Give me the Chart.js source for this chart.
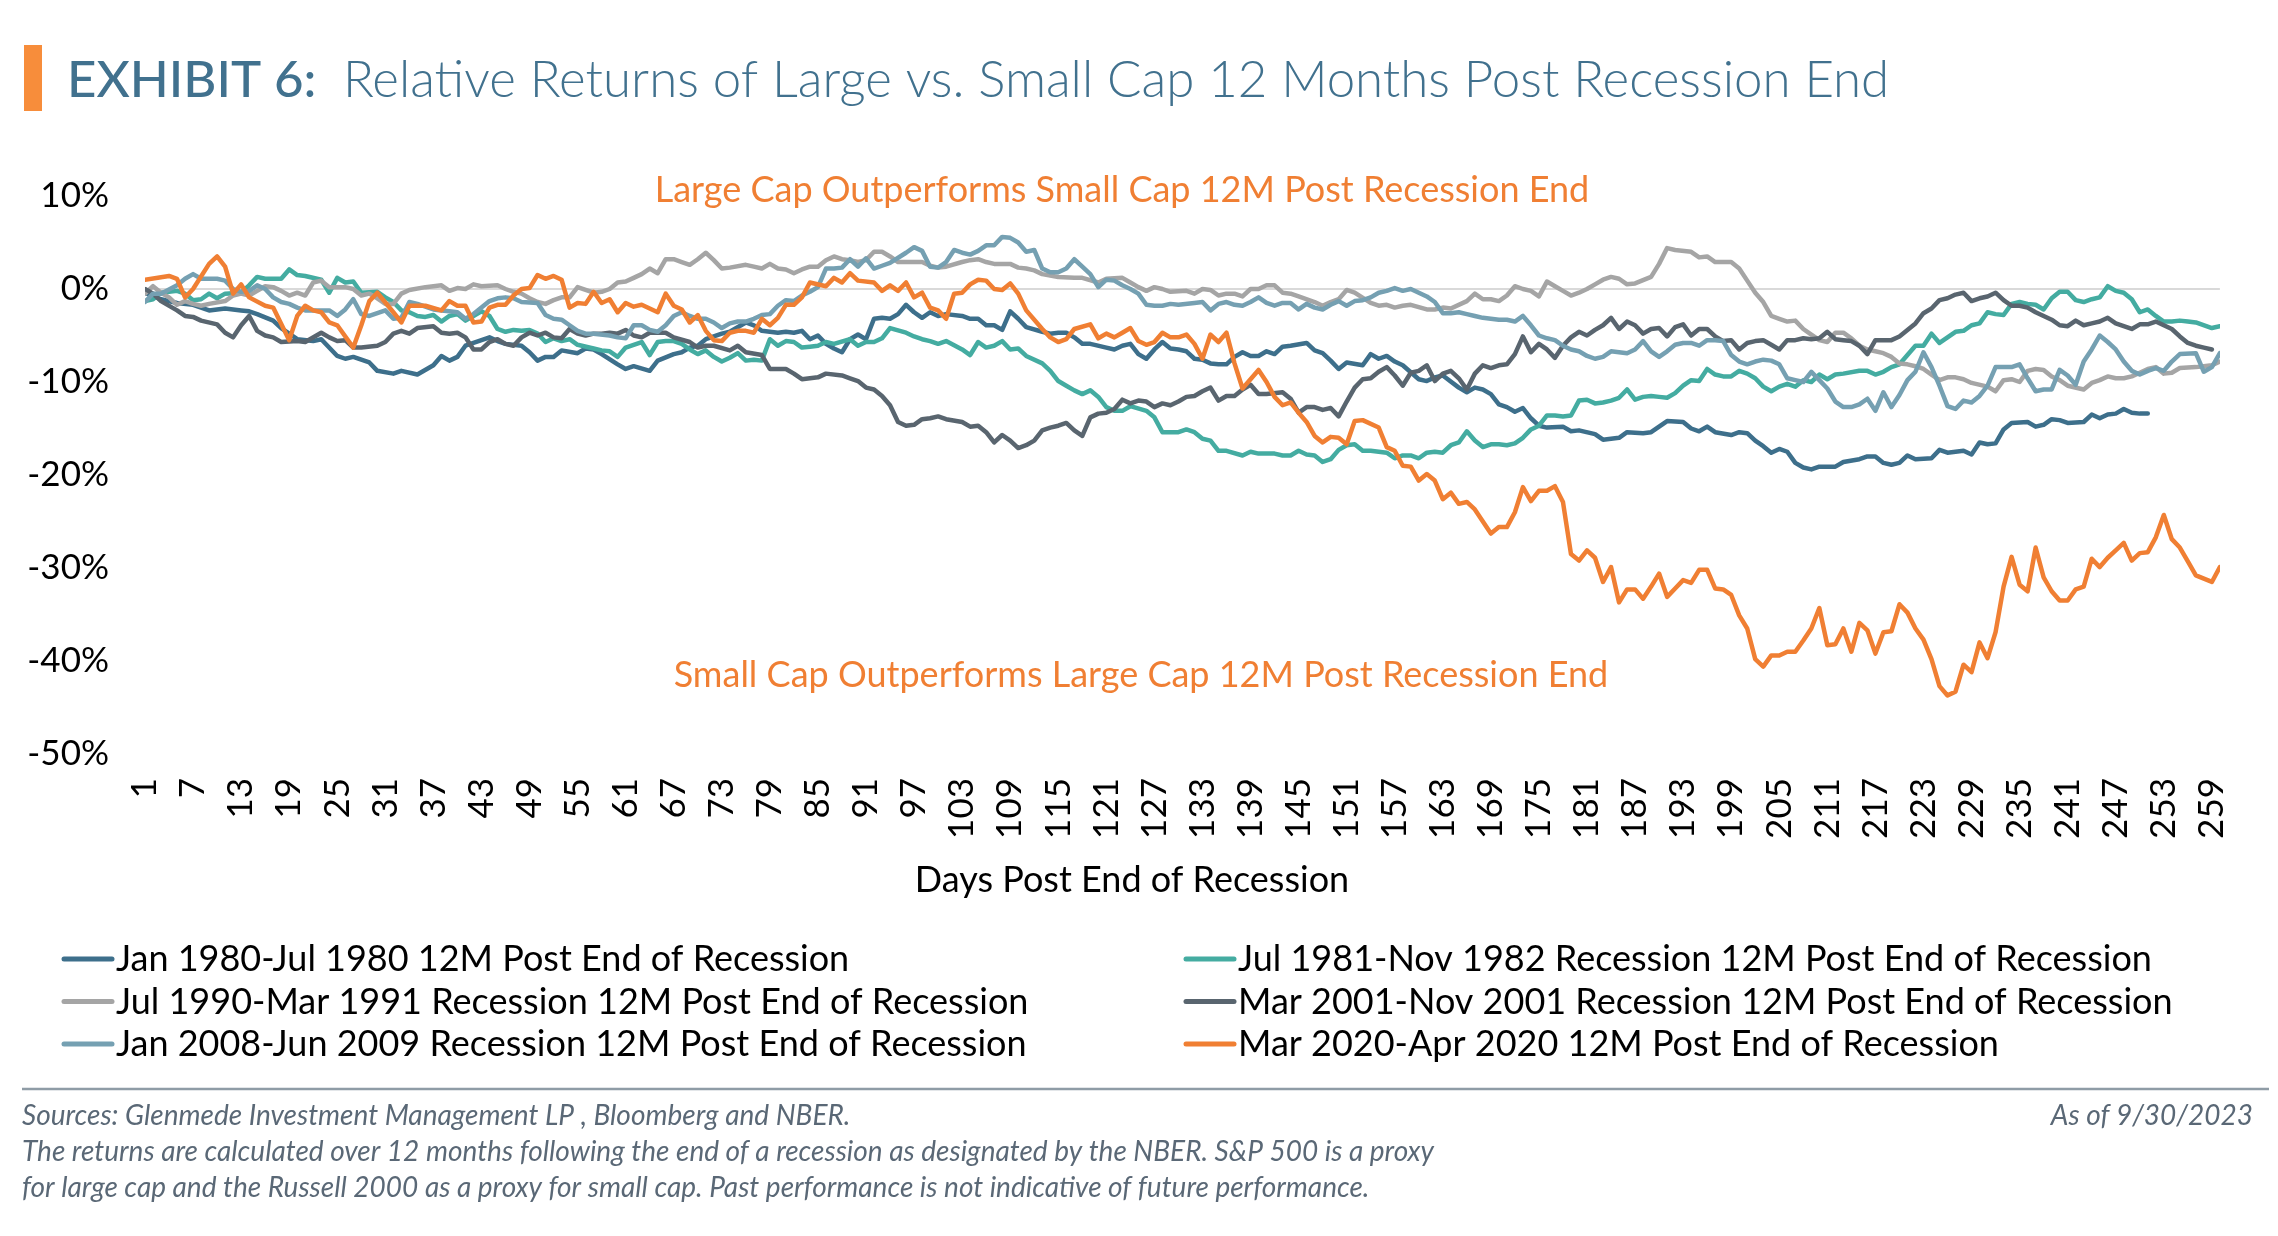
<!DOCTYPE html>
<html>
<head>
<meta charset="utf-8">
<script src="https://cdn.jsdelivr.net/npm/chart.js@4.4.0/dist/chart.umd.min.js"></script>
<style>
html,body{margin:0;padding:0;background:#fff;}
#wrap{position:relative;width:2278px;height:1236px;}
canvas{display:block;}
</style>
</head>
<body>
<div id="wrap"><canvas id="c" width="2278" height="1236"></canvas></div>
<script>
// ---- Data: [day, relative return %] ----
const dayTicks = [1,7,13,19,25,31,37,43,49,55,61,67,73,79,85,91,97,103,109,115,121,127,133,139,145,151,157,163,169,175,181,187,193,199,205,211,217,223,229,235,241,247,253,259];
const yTickValues = [-50,-40,-30,-20,-10,0,10];

const seriesLabels = [
  "Jan 1980-Jul 1980 12M Post End of Recession",
  "Jul 1981-Nov 1982 Recession 12M Post End of Recession",
  "Jul 1990-Mar 1991 Recession 12M Post End of Recession",
  "Mar 2001-Nov 2001 Recession 12M Post End of Recession",
  "Jan 2008-Jun 2009 Recession 12M Post End of Recession",
  "Mar 2020-Apr 2020 12M Post End of Recession"
];

const rec1980 = [[1,-0.4],[3,-1.1],[5,-1.5],[7,-1.7],[9,-2.3],[11,-2.1],[13,-2.3],[14,-2.4],[15,-2.7],[17,-3.4],[18,-4.2],[20,-5.4],[22,-5.6],[23,-5.4],[25,-7.2],[26,-7.5],[27,-7.3],[29,-7.9],[30,-8.8],[32,-9.1],[33,-8.8],[35,-9.2],[37,-8.2],[38,-7.2],[39,-7.7],[40,-7.3],[41,-6.1],[43,-5.5],[44,-5.2],[45,-5.6],[46,-5.9],[48,-6.1],[49,-6.8],[50,-7.7],[51,-7.3],[52,-7.3],[53,-6.6],[55,-6.9],[56,-6.4],[57,-6.5],[58,-7.0],[60,-8.1],[61,-8.6],[62,-8.3],[64,-8.8],[65,-7.7],[67,-7.0],[68,-6.8],[69,-6.3],[70,-6.1],[71,-5.4],[73,-4.8],[74,-4.6],[76,-3.6],[77,-3.9],[78,-4.5],[80,-4.7],[81,-4.6],[82,-4.7],[83,-4.5],[84,-5.4],[85,-5.0],[86,-5.9],[87,-6.4],[88,-6.8],[89,-5.4],[90,-4.9],[91,-5.4],[92,-3.2],[93,-3.1],[94,-3.2],[95,-2.7],[96,-1.7],[97,-2.5],[98,-3.1],[99,-2.5],[100,-2.9],[101,-2.7],[103,-2.9],[104,-3.2],[105,-3.2],[106,-3.9],[107,-3.9],[108,-4.4],[109,-2.4],[110,-3.2],[111,-4.1],[113,-4.6],[114,-4.8],[115,-4.7],[116,-4.7],[117,-5.2],[118,-5.9],[119,-5.9],[121,-6.3],[122,-6.5],[123,-6.1],[124,-5.9],[125,-7.0],[126,-7.5],[127,-6.5],[128,-5.7],[129,-6.4],[130,-6.5],[131,-6.7],[132,-7.5],[133,-7.6],[134,-8.0],[135,-8.1],[136,-8.1],[137,-7.3],[138,-6.8],[139,-7.2],[140,-7.2],[141,-6.7],[142,-7.0],[143,-6.2],[144,-6.1],[146,-5.8],[147,-6.6],[148,-6.9],[149,-7.7],[150,-8.6],[151,-7.9],[153,-8.2],[154,-7.0],[155,-7.5],[156,-7.2],[157,-7.8],[158,-8.2],[160,-9.7],[161,-9.9],[162,-9.5],[163,-9.3],[165,-10.6],[166,-11.1],[167,-10.6],[168,-10.8],[169,-11.3],[170,-12.4],[171,-12.7],[172,-13.2],[173,-12.8],[174,-13.9],[175,-14.7],[176,-14.9],[178,-14.8],[179,-15.3],[180,-15.2],[182,-15.6],[183,-16.2],[185,-16.0],[186,-15.4],[188,-15.5],[189,-15.4],[191,-14.2],[193,-14.3],[194,-15.0],[195,-15.3],[196,-14.8],[197,-15.4],[199,-15.7],[200,-15.4],[201,-15.5],[202,-16.3],[203,-16.9],[204,-17.6],[205,-17.2],[206,-17.5],[207,-18.7],[208,-19.2],[209,-19.4],[210,-19.1],[212,-19.1],[213,-18.6],[215,-18.3],[216,-18.0],[217,-18.0],[218,-18.7],[219,-18.9],[220,-18.7],[221,-17.9],[222,-18.3],[224,-18.2],[225,-17.3],[226,-17.6],[228,-17.4],[229,-17.8],[230,-16.5],[231,-16.7],[232,-16.6],[233,-15.1],[234,-14.4],[236,-14.3],[237,-14.8],[238,-14.6],[239,-14.0],[240,-14.1],[241,-14.4],[243,-14.3],[244,-13.5],[245,-13.9],[246,-13.5],[247,-13.4],[248,-12.9],[249,-13.3],[250,-13.4],[251,-13.4]];

const rec1981 = [[1,-1.3],[2,-1.1],[3,-0.4],[5,-0.2],[6,-0.5],[7,-1.2],[8,-1.1],[9,-0.5],[10,-1.0],[11,-0.5],[13,-0.4],[14,0.4],[15,1.3],[16,1.1],[18,1.1],[19,2.1],[20,1.5],[21,1.4],[23,1.0],[24,-0.4],[25,1.2],[26,0.7],[27,0.8],[28,-0.4],[30,-0.3],[31,-0.9],[32,-1.4],[33,-2.3],[34,-2.5],[35,-2.9],[36,-3.0],[37,-2.8],[38,-3.5],[39,-2.9],[40,-2.7],[41,-3.4],[42,-2.9],[43,-2.4],[44,-2.9],[45,-4.3],[46,-4.6],[47,-4.4],[48,-4.5],[49,-4.4],[50,-4.8],[51,-5.7],[52,-5.3],[53,-5.6],[54,-5.4],[55,-6.0],[57,-6.4],[58,-6.6],[59,-6.7],[60,-7.3],[61,-6.3],[63,-5.7],[64,-7.1],[65,-5.7],[66,-5.6],[67,-5.6],[68,-5.9],[69,-6.5],[70,-7.0],[71,-6.6],[72,-7.3],[73,-7.8],[74,-7.4],[75,-6.9],[76,-7.7],[77,-7.6],[78,-7.7],[79,-5.4],[80,-6.1],[81,-5.6],[82,-5.7],[83,-6.3],[84,-6.2],[85,-6.1],[86,-5.7],[87,-5.9],[89,-5.4],[90,-6.1],[91,-5.7],[92,-5.7],[93,-5.3],[94,-4.2],[96,-4.7],[97,-5.1],[98,-5.4],[99,-5.6],[100,-5.9],[101,-5.6],[103,-6.5],[104,-7.1],[105,-5.7],[106,-6.3],[107,-6.1],[108,-5.6],[109,-6.5],[110,-6.4],[111,-7.2],[113,-8.0],[114,-8.8],[115,-9.9],[116,-10.4],[117,-10.9],[118,-11.3],[119,-10.9],[120,-11.6],[121,-12.7],[122,-13.1],[123,-13.1],[124,-12.6],[126,-13.1],[127,-13.8],[128,-15.4],[130,-15.4],[131,-15.1],[132,-15.4],[133,-16.1],[134,-16.3],[135,-17.4],[136,-17.4],[138,-17.9],[139,-17.5],[140,-17.7],[142,-17.7],[143,-17.9],[144,-17.9],[145,-17.4],[146,-17.8],[147,-17.9],[148,-18.6],[149,-18.3],[150,-17.3],[151,-16.8],[152,-16.7],[153,-17.4],[154,-17.4],[155,-17.5],[156,-17.6],[157,-18.2],[158,-17.9],[159,-17.9],[160,-18.2],[161,-17.6],[162,-17.5],[163,-17.6],[164,-16.8],[165,-16.5],[166,-15.3],[167,-16.3],[168,-17.0],[169,-16.7],[170,-16.7],[171,-16.8],[172,-16.6],[173,-16.0],[174,-15.1],[175,-14.7],[176,-13.6],[177,-13.6],[178,-13.7],[179,-13.6],[180,-12.0],[181,-11.9],[182,-12.3],[183,-12.2],[184,-12.0],[185,-11.7],[186,-10.8],[187,-11.9],[188,-11.6],[189,-11.5],[190,-11.6],[191,-11.7],[192,-11.2],[193,-10.4],[194,-9.8],[195,-9.9],[196,-8.6],[197,-9.2],[198,-9.4],[199,-9.4],[200,-8.8],[201,-9.1],[202,-9.6],[203,-10.5],[204,-11.0],[205,-10.5],[206,-10.2],[207,-10.5],[208,-9.8],[209,-10.0],[210,-9.2],[211,-9.7],[212,-9.2],[213,-9.1],[215,-8.8],[216,-8.8],[217,-9.2],[218,-8.9],[219,-8.4],[220,-8.1],[221,-7.1],[222,-6.1],[223,-6.1],[224,-4.8],[225,-5.8],[226,-5.2],[227,-4.6],[228,-4.5],[229,-3.9],[230,-3.7],[231,-2.5],[232,-2.7],[233,-2.8],[234,-1.6],[235,-1.4],[236,-1.6],[237,-1.7],[238,-2.2],[239,-1.0],[240,-0.3],[241,-0.3],[242,-1.2],[243,-1.4],[244,-1.1],[245,-0.9],[246,0.3],[247,-0.2],[248,-0.4],[249,-1.1],[250,-2.5],[251,-2.2],[252,-2.9],[253,-3.5],[254,-3.5],[255,-3.4],[256,-3.5],[257,-3.6],[259,-4.2],[260,-4.0]];

const rec1990 = [[1,-0.5],[2,0.3],[3,-0.4],[4,-0.9],[5,-1.7],[6,-1.3],[7,-1.6],[8,-1.8],[9,-1.6],[11,-1.3],[12,-0.7],[13,-0.5],[14,-0.7],[15,-0.2],[16,0.3],[17,0.2],[18,-0.2],[19,-0.7],[20,-0.4],[21,-0.7],[22,0.7],[23,0.9],[24,0.2],[26,0.2],[27,0.0],[28,-0.7],[29,-0.5],[30,-1.0],[31,-1.6],[32,-1.6],[33,-0.5],[34,-0.1],[36,0.2],[38,0.4],[39,-0.2],[40,0.1],[41,0.0],[42,0.5],[43,0.3],[45,0.4],[46,0.0],[47,-0.3],[48,-0.5],[49,-1.0],[50,-1.4],[51,-1.6],[52,-1.2],[53,-0.9],[54,-0.9],[55,0.2],[56,-0.1],[57,-0.4],[58,-0.3],[59,0.0],[60,0.7],[61,0.8],[62,1.2],[63,1.6],[64,2.2],[65,1.7],[66,3.2],[67,3.2],[68,2.9],[69,2.6],[70,3.2],[71,3.9],[72,3.1],[73,2.2],[74,2.3],[76,2.6],[77,2.4],[78,2.2],[79,2.7],[80,2.2],[81,2.1],[82,1.7],[83,2.1],[84,2.4],[85,2.4],[86,3.1],[87,3.5],[88,3.2],[89,3.1],[90,2.9],[91,3.1],[92,4.0],[93,4.0],[94,3.5],[95,2.9],[97,2.9],[98,2.9],[99,2.5],[100,2.3],[101,2.4],[103,2.9],[104,3.1],[105,3.2],[106,2.9],[107,2.7],[109,2.7],[110,2.3],[111,2.2],[112,2.0],[113,1.6],[115,1.3],[117,1.2],[118,1.2],[120,0.7],[121,1.1],[123,1.2],[124,0.7],[125,0.2],[126,-0.2],[127,0.2],[128,0.0],[129,-0.3],[131,-0.2],[132,-0.5],[133,0.0],[134,-0.1],[135,-0.7],[136,-0.5],[137,-0.5],[138,-0.8],[139,0.0],[140,0.0],[141,0.4],[142,0.4],[143,-0.4],[144,-0.5],[145,-0.8],[147,-1.4],[148,-1.8],[149,-1.4],[150,-1.1],[151,-0.1],[152,-0.4],[154,-1.5],[155,-1.8],[156,-1.7],[157,-2.0],[158,-1.8],[159,-1.7],[161,-2.2],[162,-2.2],[163,-2.0],[164,-2.1],[166,-1.3],[167,-0.5],[168,-1.1],[169,-1.1],[170,-1.3],[171,-0.7],[172,0.3],[173,0.0],[174,-0.2],[175,-0.8],[176,0.8],[177,0.3],[178,-0.2],[179,-0.7],[180,-0.4],[181,0.0],[182,0.5],[183,1.0],[184,1.3],[185,1.1],[186,0.5],[187,0.6],[189,1.3],[190,2.7],[191,4.4],[192,4.2],[194,4.0],[195,3.4],[196,3.5],[197,2.9],[199,2.9],[200,2.2],[201,0.9],[202,-0.4],[203,-1.4],[204,-2.9],[205,-3.2],[206,-3.5],[207,-3.4],[208,-4.3],[209,-4.9],[210,-5.5],[211,-5.7],[212,-4.7],[213,-4.7],[214,-5.3],[215,-6.1],[216,-6.5],[217,-6.7],[218,-6.9],[219,-7.3],[220,-8.0],[221,-8.1],[222,-8.3],[223,-8.6],[224,-9.2],[225,-9.8],[226,-9.5],[227,-9.5],[228,-9.7],[229,-10.1],[231,-10.5],[232,-11.0],[233,-9.8],[234,-9.7],[235,-10.0],[236,-8.8],[237,-8.6],[238,-8.7],[239,-9.4],[240,-9.8],[241,-10.4],[243,-10.8],[244,-10.1],[245,-9.8],[246,-9.4],[247,-9.6],[248,-9.6],[249,-9.4],[250,-9.0],[251,-8.6],[252,-8.4],[253,-9.1],[254,-9.0],[255,-8.5],[257,-8.4],[258,-8.3],[259,-8.2],[260,-7.8]];

const rec2001 = [[1,0.0],[2,-0.5],[3,-1.3],[5,-2.3],[6,-2.9],[7,-3.0],[8,-3.4],[10,-3.8],[11,-4.7],[12,-5.2],[13,-3.9],[14,-2.9],[15,-4.5],[16,-5.0],[17,-5.2],[18,-5.7],[20,-5.6],[21,-5.7],[23,-4.7],[24,-5.2],[25,-5.6],[26,-5.5],[27,-6.3],[28,-6.3],[30,-6.1],[31,-5.7],[32,-4.8],[33,-4.5],[34,-4.8],[35,-4.2],[37,-4.0],[38,-4.7],[39,-4.8],[40,-4.7],[41,-5.2],[42,-6.5],[43,-6.5],[44,-5.7],[45,-5.4],[46,-5.9],[47,-6.1],[48,-5.2],[49,-4.7],[50,-5.0],[51,-4.7],[52,-5.2],[53,-5.3],[54,-4.3],[55,-4.8],[56,-5.0],[57,-4.8],[58,-4.8],[59,-4.7],[60,-4.8],[61,-4.4],[62,-5.0],[63,-5.2],[64,-4.7],[66,-4.7],[67,-5.2],[69,-5.7],[70,-6.3],[71,-6.1],[72,-6.1],[74,-6.6],[75,-6.1],[76,-6.8],[78,-7.1],[79,-8.6],[81,-8.6],[82,-9.1],[83,-9.7],[85,-9.5],[86,-9.1],[88,-9.3],[89,-9.6],[90,-9.9],[91,-10.6],[92,-10.8],[93,-11.5],[94,-12.5],[95,-14.3],[96,-14.7],[97,-14.6],[98,-14.0],[99,-13.9],[100,-13.7],[101,-14.0],[103,-14.3],[104,-14.8],[105,-14.7],[106,-15.4],[107,-16.5],[108,-15.7],[109,-16.3],[110,-17.1],[111,-16.8],[112,-16.3],[113,-15.2],[114,-14.9],[115,-14.7],[116,-14.4],[117,-15.2],[118,-15.8],[119,-13.8],[120,-13.4],[121,-13.3],[122,-12.9],[123,-11.9],[124,-12.3],[125,-12.0],[126,-12.1],[127,-12.7],[128,-12.3],[129,-12.5],[130,-12.1],[131,-11.6],[132,-11.5],[133,-11.0],[134,-10.6],[135,-12.0],[136,-11.5],[137,-11.5],[138,-10.8],[139,-10.3],[140,-11.3],[141,-11.3],[143,-11.1],[144,-11.8],[145,-13.3],[146,-12.7],[147,-12.7],[148,-13.0],[149,-12.8],[150,-13.7],[151,-12.1],[152,-10.6],[153,-9.7],[154,-9.6],[155,-8.9],[156,-8.4],[157,-9.3],[158,-10.4],[159,-9.0],[160,-8.8],[161,-8.2],[162,-9.9],[163,-9.1],[164,-8.8],[165,-9.6],[166,-10.8],[167,-9.1],[168,-8.2],[169,-8.5],[170,-8.2],[171,-8.1],[172,-7.0],[173,-5.1],[174,-6.8],[175,-5.9],[176,-6.5],[177,-7.4],[178,-6.1],[179,-5.2],[180,-4.6],[181,-5.0],[182,-4.4],[183,-3.9],[184,-3.1],[185,-4.3],[186,-3.5],[187,-3.9],[188,-4.8],[189,-4.3],[190,-4.2],[191,-5.1],[192,-4.1],[193,-3.8],[194,-5.0],[195,-4.3],[196,-4.3],[197,-5.1],[198,-5.6],[199,-5.5],[200,-6.5],[201,-5.8],[202,-5.6],[203,-5.5],[204,-6.0],[205,-6.5],[206,-5.5],[207,-5.5],[208,-5.3],[209,-5.4],[210,-5.3],[211,-4.6],[212,-5.4],[213,-5.5],[214,-5.6],[215,-6.1],[216,-7.0],[217,-5.5],[218,-5.5],[219,-5.5],[220,-5.1],[221,-4.4],[222,-3.7],[223,-2.6],[224,-2.1],[225,-1.2],[226,-1.0],[227,-0.6],[228,-0.4],[229,-1.3],[230,-1.0],[231,-0.8],[232,-0.4],[233,-1.2],[234,-1.8],[235,-1.8],[236,-2.0],[237,-2.5],[238,-2.9],[239,-3.3],[240,-3.9],[241,-4.0],[242,-3.4],[243,-3.9],[244,-3.7],[245,-3.5],[246,-3.1],[247,-3.7],[248,-4.0],[249,-4.3],[250,-3.8],[251,-3.8],[252,-3.5],[253,-3.9],[254,-4.3],[255,-5.1],[256,-5.8],[257,-6.1],[258,-6.3],[259,-6.5]];

const rec2008 = [[1,-1.4],[2,-0.5],[3,-0.5],[5,0.4],[6,1.1],[7,1.6],[8,1.1],[10,1.1],[11,0.9],[12,0.0],[13,-0.3],[14,-0.2],[15,0.4],[16,0.0],[17,-0.9],[18,-1.4],[19,-1.6],[20,-2.0],[21,-2.3],[23,-2.3],[24,-2.3],[25,-2.9],[26,-2.2],[27,-1.1],[28,-2.7],[29,-2.9],[31,-2.3],[32,-3.2],[33,-3.1],[34,-1.4],[35,-1.6],[37,-2.2],[38,-2.3],[39,-2.4],[40,-2.5],[41,-3.2],[42,-2.7],[43,-2.0],[44,-1.3],[45,-1.0],[46,-0.9],[47,-1.0],[48,-1.4],[50,-1.5],[51,-2.8],[52,-3.2],[53,-3.3],[54,-3.9],[55,-4.5],[56,-4.8],[57,-4.8],[59,-5.0],[60,-5.2],[61,-5.3],[62,-3.9],[63,-3.9],[64,-4.4],[65,-4.6],[66,-3.9],[67,-2.9],[68,-2.5],[69,-2.9],[70,-3.2],[71,-3.2],[72,-3.6],[73,-4.2],[74,-3.7],[75,-3.5],[76,-3.5],[77,-3.2],[78,-2.8],[79,-2.7],[80,-1.8],[81,-1.2],[82,-1.3],[83,-0.7],[84,-0.3],[85,0.2],[86,2.2],[87,2.2],[88,2.3],[89,3.2],[90,2.4],[91,3.3],[92,2.2],[93,2.5],[94,2.8],[96,3.9],[97,4.5],[98,4.1],[99,2.4],[100,2.3],[101,2.9],[102,4.2],[103,3.9],[104,3.7],[105,4.1],[106,4.7],[107,4.7],[108,5.6],[109,5.5],[110,5.0],[111,4.0],[112,4.2],[113,2.2],[114,1.8],[115,1.8],[116,2.2],[117,3.2],[118,2.4],[119,1.6],[120,0.2],[121,1.0],[122,0.9],[123,0.4],[124,0.0],[125,-0.5],[126,-1.7],[127,-1.8],[128,-1.8],[129,-1.6],[130,-1.7],[132,-1.5],[133,-1.4],[134,-2.3],[135,-1.6],[136,-1.4],[137,-1.7],[138,-1.8],[139,-1.4],[140,-0.9],[141,-1.5],[142,-1.8],[143,-1.5],[144,-1.5],[145,-2.2],[146,-1.6],[147,-2.0],[148,-2.2],[149,-1.7],[150,-1.3],[151,-1.8],[152,-1.3],[153,-1.2],[154,-0.9],[155,-0.4],[156,-0.2],[157,0.1],[158,-0.2],[159,0.0],[160,-0.4],[161,-0.8],[162,-1.4],[163,-2.6],[164,-2.6],[165,-2.5],[166,-2.7],[167,-2.9],[168,-3.1],[170,-3.3],[171,-3.3],[172,-3.5],[173,-2.9],[174,-3.9],[175,-5.0],[176,-5.3],[177,-5.5],[178,-6.1],[179,-6.5],[180,-6.7],[181,-7.2],[182,-7.5],[183,-7.3],[184,-6.7],[186,-6.9],[187,-6.5],[188,-5.6],[189,-6.7],[190,-7.3],[191,-6.7],[192,-6.0],[193,-5.8],[194,-5.8],[195,-6.1],[196,-5.5],[197,-5.5],[198,-5.6],[199,-7.1],[200,-7.8],[201,-8.1],[202,-7.8],[203,-7.6],[204,-7.7],[205,-8.1],[206,-9.6],[207,-9.8],[208,-10.0],[209,-8.9],[210,-9.8],[211,-10.7],[212,-12.1],[213,-12.7],[214,-12.7],[215,-12.4],[216,-11.8],[217,-13.1],[218,-11.1],[219,-12.7],[220,-11.4],[221,-9.8],[222,-8.9],[223,-6.8],[224,-8.4],[225,-10.4],[226,-12.6],[227,-12.9],[228,-12.0],[229,-12.2],[230,-11.5],[231,-10.4],[232,-8.4],[233,-8.4],[234,-8.4],[235,-8.1],[236,-9.6],[237,-11.0],[238,-10.8],[239,-10.8],[240,-8.7],[241,-9.3],[242,-10.3],[243,-7.8],[244,-6.5],[245,-5.0],[246,-5.7],[247,-6.5],[248,-7.8],[249,-8.8],[250,-9.2],[251,-8.8],[252,-8.5],[253,-8.8],[254,-7.8],[255,-7.0],[257,-6.9],[258,-8.9],[259,-8.4],[260,-6.9]];

const rec2020 = [[1,1.0],[4,1.4],[5,1.1],[6,-0.9],[7,0.0],[9,2.7],[10,3.5],[11,2.4],[12,-0.5],[13,0.5],[14,-0.9],[16,-1.8],[17,-2.0],[19,-5.5],[20,-2.9],[21,-1.8],[22,-2.3],[23,-2.5],[24,-3.6],[25,-3.9],[27,-6.3],[28,-3.9],[29,-1.3],[30,-0.4],[32,-2.5],[33,-3.6],[34,-1.8],[36,-1.8],[38,-2.3],[39,-1.3],[40,-1.8],[41,-1.8],[42,-3.6],[43,-3.5],[44,-2.0],[45,-1.7],[46,-1.7],[47,-0.7],[48,0.0],[49,0.1],[50,1.5],[51,1.1],[52,1.4],[53,1.0],[54,-2.0],[55,-1.5],[56,-1.6],[57,-0.3],[58,-1.5],[59,-1.1],[60,-2.5],[61,-1.5],[62,-1.9],[63,-1.7],[65,-2.5],[66,-0.5],[67,-1.8],[68,-2.2],[69,-3.6],[70,-2.8],[71,-4.5],[72,-5.5],[73,-5.6],[74,-4.7],[75,-4.5],[76,-4.5],[77,-4.7],[78,-3.2],[79,-3.9],[80,-3.1],[81,-1.7],[82,-1.7],[83,-0.9],[84,0.7],[86,0.3],[87,1.2],[88,0.7],[89,1.7],[90,0.9],[92,0.7],[93,-0.2],[94,0.4],[95,-0.2],[96,0.7],[97,-0.9],[98,-0.4],[99,-2.0],[100,-2.3],[101,-3.2],[102,-0.5],[103,-0.4],[104,0.5],[105,1.0],[106,0.9],[107,0.0],[108,-0.1],[109,0.6],[110,-0.5],[111,-2.3],[113,-4.3],[114,-5.2],[115,-5.7],[116,-5.4],[117,-4.3],[119,-3.8],[120,-5.3],[121,-4.8],[122,-5.2],[123,-4.7],[124,-4.2],[125,-5.6],[126,-6.0],[127,-5.7],[128,-4.7],[129,-5.2],[130,-5.2],[131,-4.9],[132,-5.9],[133,-7.5],[134,-4.9],[135,-5.7],[136,-4.7],[137,-8.0],[138,-10.7],[140,-8.7],[141,-10.0],[142,-11.6],[143,-12.5],[144,-12.2],[145,-13.3],[146,-14.3],[147,-15.8],[148,-16.5],[149,-15.9],[150,-16.0],[151,-16.7],[152,-14.2],[153,-14.1],[155,-14.9],[156,-17.0],[157,-17.4],[158,-19.0],[159,-19.1],[160,-20.6],[161,-19.9],[162,-20.6],[163,-22.6],[164,-21.9],[165,-23.1],[166,-22.9],[167,-23.7],[169,-26.3],[170,-25.6],[171,-25.6],[172,-24.0],[173,-21.3],[174,-22.8],[175,-21.7],[176,-21.7],[177,-21.2],[178,-22.9],[179,-28.5],[180,-29.2],[181,-28.1],[182,-28.9],[183,-31.5],[184,-29.9],[185,-33.7],[186,-32.3],[187,-32.3],[188,-33.3],[189,-32.0],[190,-30.6],[191,-33.1],[192,-32.2],[193,-31.3],[194,-31.6],[195,-30.2],[196,-30.2],[197,-32.2],[198,-32.3],[199,-32.9],[200,-35.1],[201,-36.5],[202,-39.8],[203,-40.6],[204,-39.4],[205,-39.4],[206,-39.0],[207,-39.0],[208,-37.8],[209,-36.5],[210,-34.3],[211,-38.3],[212,-38.2],[213,-36.5],[214,-39.0],[215,-35.9],[216,-36.7],[217,-39.2],[218,-36.9],[219,-36.8],[220,-33.9],[221,-34.8],[222,-36.5],[223,-37.7],[224,-39.8],[225,-42.7],[226,-43.7],[227,-43.3],[228,-40.4],[229,-41.2],[230,-38.0],[231,-39.7],[232,-36.9],[233,-32.0],[234,-28.8],[235,-31.8],[236,-32.5],[237,-27.8],[238,-31.0],[239,-32.5],[240,-33.5],[241,-33.5],[242,-32.3],[243,-32.0],[244,-29.0],[245,-29.9],[246,-28.9],[247,-28.1],[248,-27.3],[249,-29.2],[250,-28.4],[251,-28.3],[252,-26.7],[253,-24.3],[254,-26.9],[255,-27.8],[256,-29.3],[257,-30.8],[259,-31.5],[260,-29.9]];

const seriesData = [rec1980, rec1981, rec1990, rec2001, rec2008, rec2020];
const seriesColors = ['#3d6f8b', '#44aca1', '#a5a5a5', '#59656f', '#75a0b2', '#f07f33'];

// ---- Chart ----
Chart.defaults.font.family = 'Lato';

const datasets = seriesData.map((pairs, i) => ({
  label: seriesLabels[i],
  data: pairs.map(p => ({ x: p[0], y: p[1] })),
  borderColor: seriesColors[i],
  backgroundColor: seriesColors[i],
  borderWidth: 4.5,
  pointRadius: 0,
  pointHoverRadius: 0,
  tension: 0,
  fill: false,
  borderJoinStyle: 'round',
  borderCapStyle: 'round',
  order: seriesData.length - 1 - i
}));

const decor = {
  id: 'decor',
  afterDraw(chart) {
    const ctx = chart.ctx;
    ctx.save();
    // Title accent bar
    ctx.fillStyle = '#f78d3b';
    ctx.fillRect(24, 45, 18, 66);
    // Title
    ctx.textBaseline = 'alphabetic';
    ctx.textAlign = 'left';
    ctx.fillStyle = '#41718e';
    ctx.font = '500 51px Lato';
    ctx.fillText('EXHIBIT 6:', 67, 97);
    ctx.font = '300 51px Lato';
    ctx.fillText('Relative Returns of Large vs. Small Cap 12 Months Post Recession End', 343, 97);
    // Annotations
    ctx.fillStyle = '#f07f33';
    ctx.font = '36px Lato';
    ctx.textAlign = 'center';
    ctx.fillText('Large Cap Outperforms Small Cap 12M Post Recession End', 1122, 202);
    ctx.fillText('Small Cap Outperforms Large Cap 12M Post Recession End', 1141, 687);
    // X axis title
    ctx.fillStyle = '#000';
    ctx.font = '36px Lato';
    ctx.fillText('Days Post End of Recession', 1132, 892);
    // Legend (two columns, three rows)
    ctx.textAlign = 'left';
    chart.data.datasets.forEach((ds, i) => {
      const col = i % 2, row = Math.floor(i / 2);
      const x0 = col === 0 ? 62 : 1184;
      const y = 959 + row * 42.5;
      ctx.strokeStyle = ds.borderColor;
      ctx.lineWidth = 5;
      ctx.lineCap = 'round';
      ctx.beginPath();
      ctx.moveTo(x0 + 2, y);
      ctx.lineTo(x0 + 50, y);
      ctx.stroke();
      ctx.fillStyle = '#000';
      ctx.font = '36px Lato';
      ctx.fillText(ds.label, x0 + 54, y + 12);
    });
    // Separator
    ctx.strokeStyle = '#8f9ca6';
    ctx.lineWidth = 2.5;
    ctx.lineCap = 'butt';
    ctx.beginPath();
    ctx.moveTo(22, 1089);
    ctx.lineTo(2269, 1089);
    ctx.stroke();
    // Footer
    ctx.fillStyle = '#5a6876';
    ctx.font = 'italic 400 28px Lato';
    ctx.fillText('Sources: Glenmede Investment Management LP , Bloomberg and NBER.', 22, 1125);
    ctx.fillText('The returns are calculated over 12 months following the end of a recession as designated by the NBER. S&P 500 is a proxy', 22, 1161);
    ctx.fillText('for large cap and the Russell 2000 as a proxy for small cap. Past performance is not indicative of future performance.', 22, 1197);
    ctx.textAlign = 'right';
    ctx.fillText('As of 9/30/2023', 2253, 1125);
    ctx.restore();
  }
};

new Chart(document.getElementById('c').getContext('2d'), {
  type: 'line',
  data: { datasets },
  options: {
    responsive: false,
    animation: false,
    devicePixelRatio: 1,
    layout: { padding: { left: 0, right: 33, top: 196, bottom: 362 } },
    plugins: { legend: { display: false }, tooltip: { enabled: false }, title: { display: false } },
    scales: {
      x: {
        type: 'linear',
        min: 1,
        max: 260,
        afterBuildTicks: (scale) => { scale.ticks = dayTicks.map(v => ({ value: v })); },
        afterFit: (scale) => { scale.height = 120; },
        grid: { display: false, drawTicks: false },
        border: { display: false },
        ticks: {
          autoSkip: false,
          maxRotation: 90,
          minRotation: 90,
          padding: 24,
          color: '#000',
          font: { size: 35 },
          callback: (v) => String(v)
        }
      },
      y: {
        min: -50,
        max: 10,
        afterBuildTicks: (scale) => { scale.ticks = yTickValues.map(v => ({ value: v })); },
        afterFit: (scale) => { scale.width = 145; },
        grid: {
          drawTicks: false,
          lineWidth: 2,
          color: (c) => (c.tick && c.tick.value === 0) ? '#d9d9d9' : 'rgba(0,0,0,0)'
        },
        border: { display: false },
        ticks: {
          padding: 36,
          color: '#000',
          font: { size: 35 },
          callback: (v) => v + '%'
        }
      }
    }
  },
  plugins: [decor]
});
</script>
</body>
</html>
